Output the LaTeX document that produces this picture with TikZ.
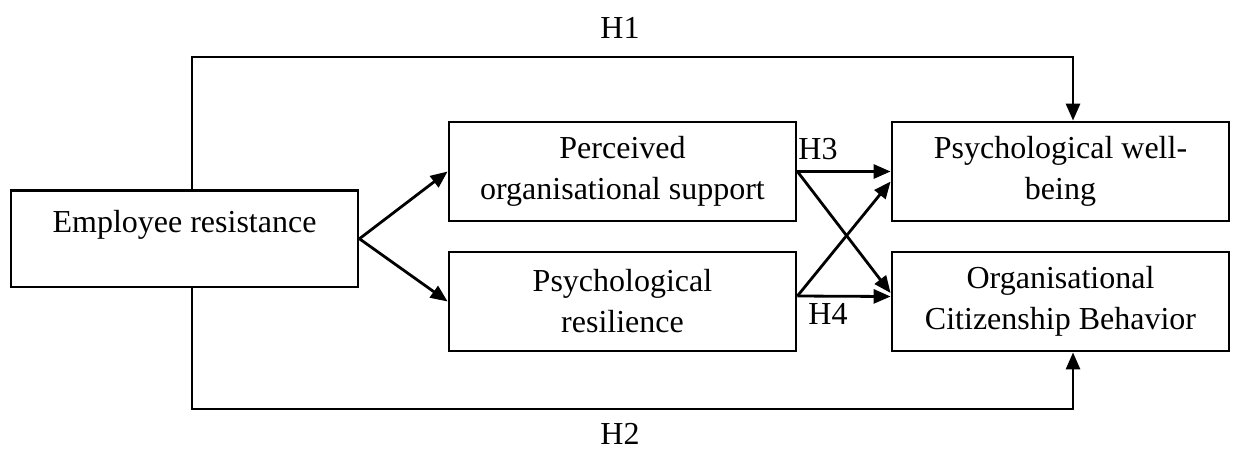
\documentclass[tikz,border=0pt]{standalone}
\usepackage{fontspec}
\setmainfont{Liberation Serif}
\usetikzlibrary{arrows.meta, calc}

\begin{document}
\begin{tikzpicture}[
x=0.5pt, y=-0.5pt,
>={Triangle[length=8.5pt,width=7pt]},
line width=1.4pt,
every node/.style={font=\fontsize{16}{20.5}\selectfont},
box/.style={draw, rectangle, align=center, minimum width=173.5pt, minimum height=49.5pt, inner sep=0pt},
hyp/.style={inner sep=0pt},
]
\useasboundingbox (0,0) rectangle (1234,451);

\node[box, minimum height=48.25pt, text depth=17.5pt] (ER) at (184.5,238.75) {Employee resistance};
\node[box] (POS) at (622.5,171.5) {Perceived\\organisational support};
\node[box] (PR) at (622.5,301.5) {Psychological\\resilience};
\node[box, minimum width=168.5pt] (PWB) at (1060.5,171.5) {Psychological well-\\being};
\node[box, minimum width=168.5pt] (OCB) at (1060.5,301.5) {Organisational\\Citizenship Behavior};

\coordinate (TL) at (192,57);
\coordinate (TR) at (1073,57);
\coordinate (BL) at (192,409);
\coordinate (BR) at (1073,409);

\node[hyp] (H1) at (620,28) {H1};
\node[hyp] (H2) at (620,434) {H2};
\node[hyp] (H3) at (818,149) {H3};
\node[hyp] (H4) at (828,314) {H4};

\draw[->] (ER.north -| TL) -- (TL) -- (TR) -- (PWB.north -| TR);
\draw[->] (ER.south -| BL) -- (BL) -- (BR) -- (OCB.south -| BR);

\draw[->] (ER.east) -- (POS.west);
\draw[->] (ER.east) -- (PR.west);

\draw[->] (POS.east) -- (PWB.west);
\draw[->] (POS.east) -- ($(OCB.west)+(0,-8.5)$);
\draw[->] ($(PR.east)+(0,-5.5)$) -- ($(PWB.west)+(0,10)$);
\draw[->] ($(PR.east)+(0,-5.5)$) -- ($(OCB.west)+(0,-5)$);
\end{tikzpicture}
\end{document}
